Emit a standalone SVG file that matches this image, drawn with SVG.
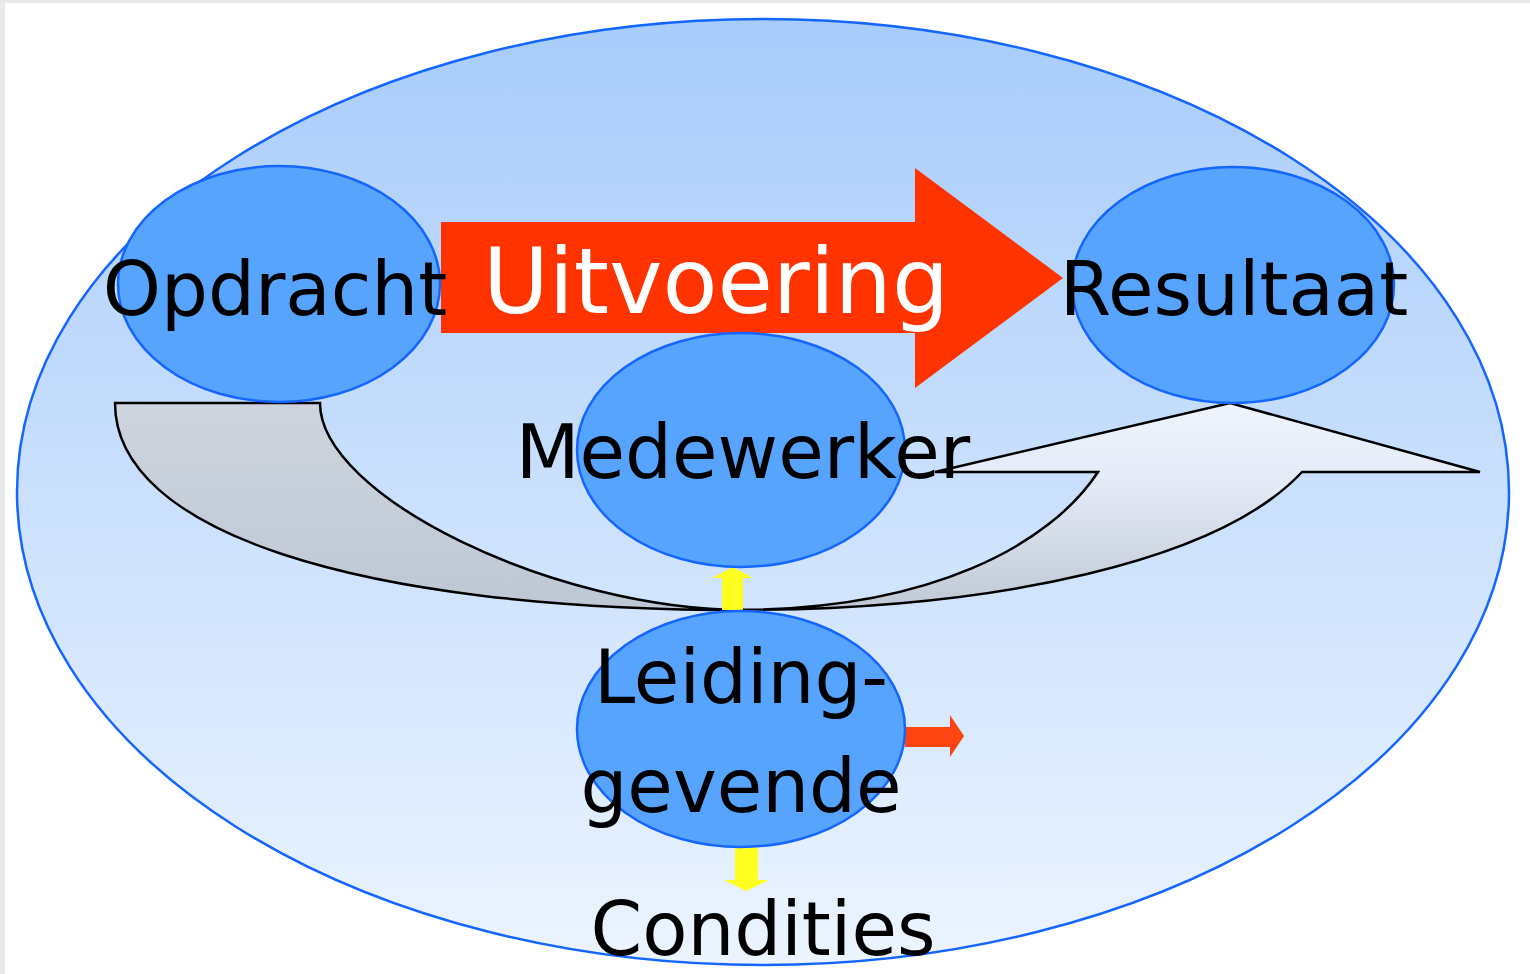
<svg xmlns="http://www.w3.org/2000/svg" width="1530" height="974" viewBox="0 0 1530 974">
  <defs>
    <linearGradient id="bgGrad" x1="0" y1="0" x2="0" y2="1">
      <stop offset="0" stop-color="#a8ccfb"/>
      <stop offset="1" stop-color="#ecf4ff"/>
    </linearGradient>
    <linearGradient id="bandLeft" gradientUnits="userSpaceOnUse" x1="0" y1="403" x2="0" y2="610">
      <stop offset="0" stop-color="#cdd4de"/>
      <stop offset="1" stop-color="#bec8d5"/>
    </linearGradient>
    <linearGradient id="bandRight" gradientUnits="userSpaceOnUse" x1="0" y1="403" x2="0" y2="610">
      <stop offset="0" stop-color="#eff4fd"/>
      <stop offset="0.4" stop-color="#e3eaf6"/>
      <stop offset="1" stop-color="#bfc8d5"/>
    </linearGradient>
    <style>
      .node { fill: #57a4ff; stroke: #1466ff; stroke-width: 2.5; }
      .label { font-family: "DejaVu Sans", Verdana, sans-serif; font-size: 74px; fill: #000; text-anchor: middle; }
      .band { stroke: #000; stroke-width: 2.5; stroke-linejoin: miter; }
    </style>
  </defs>

  <!-- page frame -->
  <rect x="0" y="0" width="1530" height="974" fill="#e8eaea"/>
  <rect x="5" y="3" width="1525" height="971" fill="#ffffff"/>

  <!-- outer context ellipse -->
  <g id="context">
    <ellipse cx="763" cy="492" rx="746" ry="473" fill="url(#bgGrad)" stroke="#1466ff" stroke-width="2.5"/>
  </g>

  <g id="connectors">
    <!-- curved feedback arrow: tail band -->
    <path class="band" fill="url(#bandLeft)" d="M115,403 L320,403 C320,496 554,610 745,610 C354,610 115,531 115,403 Z"/>
    <!-- curved feedback arrow: rising band with head -->
    <path class="band" fill="url(#bandRight)" d="M735,610 C930,610 1050,545 1098,472 L935,472 L1230,403 L1480,472 L1302,472 C1220,560 1000,610 735,610 Z"/>
    <!-- main flow arrow -->
    <polygon points="441,222 915,222 915,168 1063,278 915,388 915,333 441,333" fill="#ff3300"/>
    <!-- yellow up arrow -->
    <polygon points="722,610 722,578 712,578 733,567 753,578 743,578 743,610" fill="#ffff22"/>
    <!-- yellow down arrow -->
    <polygon points="735,847 758,847 758,880 769,880 746,891 724,880 735,880" fill="#ffff22"/>
    <!-- small red arrow -->
    <polygon points="905,727 950,727 950,715 964,736 950,757 950,747 905,747" fill="#ff4411"/>
  </g>

  <g id="opdracht">
    <ellipse class="node" cx="279" cy="284" rx="161" ry="118"/>
    <text class="label" x="275" y="315">Opdracht</text>
  </g>

  <g id="resultaat">
    <ellipse class="node" cx="1233" cy="285" rx="161" ry="118"/>
    <text class="label" x="1234" y="315">Resultaat</text>
  </g>

  <g id="medewerker">
    <ellipse class="node" cx="741" cy="450" rx="164" ry="117"/>
    <text class="label" x="743" y="478">Medewerker</text>
  </g>

  <g id="leidinggevende">
    <ellipse class="node" cx="741" cy="729" rx="164" ry="118"/>
    <text class="label" x="741" y="703">Leiding-</text>
    <text class="label" x="741" y="812">gevende</text>
  </g>

  <g id="uitvoering">
    <text x="716" y="313" font-family="DejaVu Sans, Verdana, sans-serif" font-size="90" fill="#ffffff" text-anchor="middle">Uitvoering</text>
  </g>

  <g id="condities">
    <text class="label" x="763" y="955">Condities</text>
  </g>
</svg>
